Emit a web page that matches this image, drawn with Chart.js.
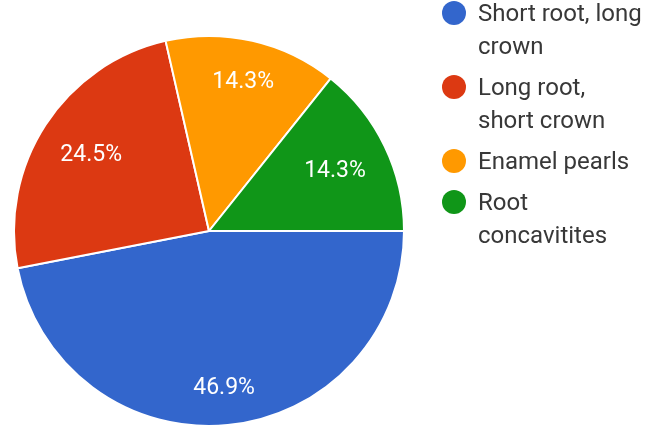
<!DOCTYPE html>
<html lang="en">
<head>
    <meta charset="UTF-8">
    <title>Root anatomy pie</title>
    <script src="https://cdn.jsdelivr.net/npm/chart.js"></script>
    <style>
        body { margin: 0; background: #fff; }
        #wrap { position: relative; width: 648px; height: 430px; }
        #legend { position: absolute; left: 442px; top: -3px; font-family: Roboto, sans-serif; font-size: 24px; line-height: 33px; color: #383838; }
        .item { position: relative; padding-left: 36px; margin-bottom: 8px; white-space: nowrap; }
        .dot { position: absolute; left: 0; top: 4px; width: 24px; height: 24px; border-radius: 50%; }
    </style>
</head>
<body>
<div id="wrap">
    <canvas id="pie" width="648" height="430"></canvas>
    <div id="legend"></div>
</div>
<script>
    // data
    const labels = ['Short root, long crown', 'Long root, short crown', 'Enamel pearls', 'Root concavitites'];
    const legendLines = [['Short root, long', 'crown'], ['Long root,', 'short crown'], ['Enamel pearls'], ['Root', 'concavitites']];
    const counts = [23, 12, 7, 7];
    const colors = ['#3366cc', '#dc3912', '#ff9900', '#109618'];

    const total = counts.reduce((a, b) => a + b, 0);

    // percentage text inside each slice, pushed out until the box corner reaches ~0.88 of the radius
    const sliceLabels = {
        id: 'sliceLabels',
        afterDatasetsDraw(chart) {
            const ctx = chart.ctx;
            const meta = chart.getDatasetMeta(0);
            ctx.save();
            ctx.font = '23px Roboto, sans-serif';
            ctx.fillStyle = '#fff';
            ctx.textAlign = 'center';
            ctx.textBaseline = 'middle';
            meta.data.forEach((arc, i) => {
                const txt = (counts[i] / total * 100).toFixed(1) + '%';
                const mid = (arc.startAngle + arc.endAngle) / 2;
                const ux = Math.cos(mid), uy = Math.sin(mid);
                const hw = ctx.measureText(txt).width / 2, hh = 9;
                const ax = Math.sign(ux) * hw, ay = Math.sign(uy) * hh;
                const ua = ux * ax + uy * ay;
                const T = arc.outerRadius * 0.88;
                const d = -ua + Math.sqrt(ua * ua - (ax * ax + ay * ay) + T * T);
                ctx.fillText(txt, arc.x + ux * d, arc.y + uy * d + 1);
            });
            ctx.restore();
        }
    };

    new Chart(document.getElementById('pie'), {
        type: 'pie',
        data: {
            labels: labels,
            datasets: [{
                data: counts,
                backgroundColor: colors,
                borderColor: '#fff',
                borderWidth: 2
            }]
        },
        options: {
            responsive: false,
            animation: false,
            rotation: 90,
            layout: { padding: { left: 13, top: 35, right: 243, bottom: 3 } },
            plugins: {
                legend: { display: false },
                tooltip: { enabled: false }
            }
        },
        plugins: [sliceLabels]
    });

    // html legend with the same line breaks as the original
    const legend = document.getElementById('legend');
    legendLines.forEach((lines, i) => {
        const item = document.createElement('div');
        item.className = 'item';
        item.innerHTML = '<span class="dot" style="background:' + colors[i] + '"></span>' + lines.join('<br>');
        legend.appendChild(item);
    });
</script>
</body>
</html>
